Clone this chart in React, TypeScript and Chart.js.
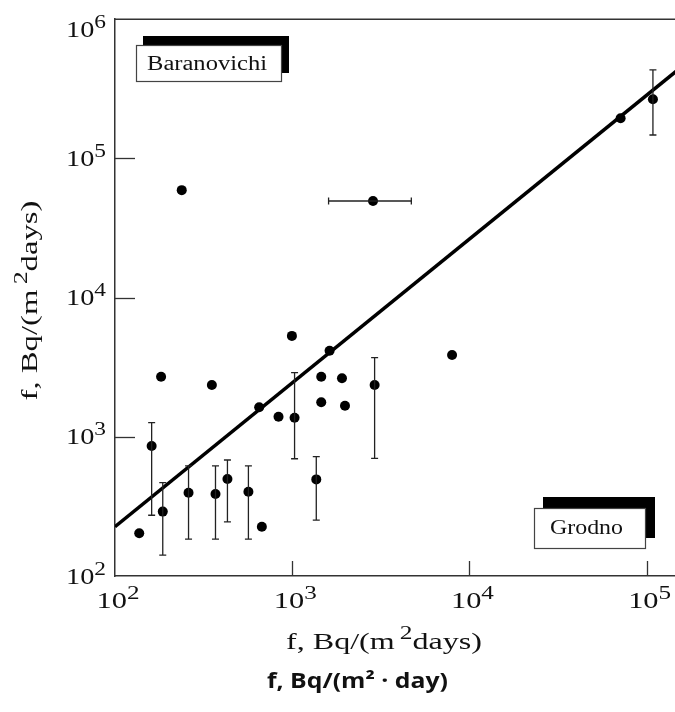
import React, { useEffect, useRef } from 'react';
import { Chart, registerables } from 'chart.js';

Chart.register(...registerables);

// ---------- data ----------
const pointX = [137, 161, 182, 186, 238, 260, 352, 369, 431, 566, 651, 674, 837, 996, 1031, 1367, 1458, 1458, 1625, 1909, 1985, 2917, 2857, 7980, 71300, 108500];
const pointY = [203, 858, 2700, 290, 59000, 396, 2350, 388, 497, 403, 1627, 226, 1393, 5300, 1371, 494, 2700, 1767, 4150, 2630, 1671, 2353, 49300, 3865, 193600, 265000];
const yErrLow: (number | null)[] = [null, 273, null, 141, null, 184, null, 184, 245, 184, null, null, null, null, 695, 252, null, null, null, null, null, 700, null, null, null, 146900];
const yErrHigh: (number | null)[] = [null, 1262, null, 468, null, 617, null, 617, 681, 617, null, null, null, null, 2884, 719, null, null, null, null, null, 3697, null, null, null, 430500];
const xErrLow: (number | null)[] = [null, null, null, null, null, null, null, null, null, null, null, null, null, null, null, null, null, null, null, null, null, null, 1604, null, null, null];
const xErrHigh: (number | null)[] = [null, null, null, null, null, null, null, null, null, null, null, null, null, null, null, null, null, null, null, null, null, null, 4700, null, null, null];

const fitX = [100, 200000];
const fitY = [226, 580000];

const xTickValues = [100, 1000, 10000, 100000];
const yTickValues = [100, 1000, 10000, 100000, 1000000];

const boxLabels = ['Baranovichi', 'Grodno'];
const axisTitleHead = 'f, Bq/(m';
const axisTitleSup = '2';
const axisTitleTail = 'days)';
const bottomTitle = 'f, Bq/(m\u00B2 \u00B7 day)';

// ---------- layout / style ----------
const CANVAS_W = 715;
const CANVAS_H = 712;
const SERIF = '"Liberation Serif", "Times New Roman", serif';
const INK = '#111';

type Part = { t: string; size: number; rise: number };

function drawParts(
  ctx: CanvasRenderingContext2D,
  parts: Part[],
  family: string,
  weight: string,
  x: number,
  y: number,
  width: number,
  align: 'left' | 'center' | 'right'
) {
  const ws: number[] = [];
  let natural = 0;
  for (const p of parts) {
    ctx.font = `${weight} ${p.size}px ${family}`;
    const w = ctx.measureText(p.t).width;
    ws.push(w);
    natural += w;
  }
  const sx = width / natural;
  let cx = align === 'left' ? x : align === 'right' ? x - width : x - width / 2;
  parts.forEach((p, i) => {
    ctx.font = `${weight} ${p.size}px ${family}`;
    ctx.save();
    ctx.translate(cx, y - p.rise);
    ctx.scale(sx, 1);
    ctx.textAlign = 'left';
    ctx.textBaseline = 'alphabetic';
    ctx.fillStyle = INK;
    ctx.fillText(p.t, 0, 0);
    ctx.restore();
    cx += ws[i] * sx;
  });
}

function tickParts(v: number): Part[] {
  const e = Math.round(Math.log10(v));
  return [
    { t: '10', size: 23, rise: 0 },
    { t: String(e), size: 19, rise: 9 },
  ];
}

const titleParts: Part[] = [
  { t: axisTitleHead, size: 24, rise: 0 },
  { t: '\u2009' + axisTitleSup, size: 19, rise: 10 },
  { t: axisTitleTail, size: 24, rise: 0 },
];

function drawBox(
  ctx: CanvasRenderingContext2D,
  text: string,
  l: number, t: number, r: number, b: number,
  sdx: number, sdy: number,
  textLeft: number, baseline: number, textWidth: number
) {
  ctx.save();
  ctx.fillStyle = '#000';
  ctx.fillRect(l + sdx, t + sdy, r - l + 1, b - t + 1);
  ctx.fillStyle = '#fff';
  ctx.fillRect(l, t, r - l, b - t);
  ctx.strokeStyle = '#444';
  ctx.lineWidth = 1.2;
  ctx.strokeRect(l + 0.5, t + 0.5, r - l, b - t);
  ctx.restore();
  drawParts(ctx, [{ t: text, size: 20, rise: 0 }], SERIF, 'normal', textLeft, baseline, textWidth, 'left');
}

const decor = {
  id: 'decor',
  afterDatasetsDraw(chart: any) {
    const ctx: CanvasRenderingContext2D = chart.ctx;
    const xs = chart.scales.x;
    const ys = chart.scales.y;
    ctx.save();
    ctx.strokeStyle = '#222';
    ctx.lineWidth = 1.3;
    const cap = 3.5;
    pointX.forEach((xv, i) => {
      const px = xs.getPixelForValue(xv);
      const py = ys.getPixelForValue(pointY[i]);
      const lo = yErrLow[i];
      const hi = yErrHigh[i];
      if (lo != null && hi != null) {
        const p1 = ys.getPixelForValue(lo);
        const p2 = ys.getPixelForValue(hi);
        ctx.beginPath();
        ctx.moveTo(px, p1); ctx.lineTo(px, p2);
        ctx.moveTo(px - cap, p1); ctx.lineTo(px + cap, p1);
        ctx.moveTo(px - cap, p2); ctx.lineTo(px + cap, p2);
        ctx.stroke();
      }
      const xl = xErrLow[i];
      const xh = xErrHigh[i];
      if (xl != null && xh != null) {
        const q1 = xs.getPixelForValue(xl);
        const q2 = xs.getPixelForValue(xh);
        ctx.beginPath();
        ctx.moveTo(q1, py); ctx.lineTo(q2, py);
        ctx.moveTo(q1, py - cap); ctx.lineTo(q1, py + cap);
        ctx.moveTo(q2, py - cap); ctx.lineTo(q2, py + cap);
        ctx.stroke();
      }
    });
    ctx.restore();
  },
  afterDraw(chart: any) {
    const ctx: CanvasRenderingContext2D = chart.ctx;
    const xs = chart.scales.x;
    const ys = chart.scales.y;
    const area = chart.chartArea;
    ctx.save();
    // top frame line
    ctx.strokeStyle = '#333';
    ctx.lineWidth = 1.5;
    ctx.beginPath();
    ctx.moveTo(area.left, Math.round(area.top) + 0.25);
    ctx.lineTo(area.right, Math.round(area.top) + 0.25);
    ctx.stroke();
    // inward tick marks
    ctx.lineWidth = 1.3;
    yTickValues.forEach((v) => {
      const py = Math.round(ys.getPixelForValue(v)) + 0.5;
      if (py < area.top + 2 || py > area.bottom - 2) return;
      ctx.beginPath();
      ctx.moveTo(area.left, py);
      ctx.lineTo(area.left + 20, py);
      ctx.stroke();
    });
    xTickValues.forEach((v) => {
      const px = Math.round(xs.getPixelForValue(v)) + 0.5;
      if (px < area.left + 2) return;
      ctx.beginPath();
      ctx.moveTo(px, area.bottom);
      ctx.lineTo(px, area.bottom - 15);
      ctx.stroke();
    });
    ctx.restore();

    // tick labels
    yTickValues.forEach((v) => {
      const py = ys.getPixelForValue(v);
      const base = Math.max(py + 7.5, area.top + 18);
      drawParts(ctx, tickParts(v), SERIF, 'normal', 106, base, 40, 'right');
    });
    xTickValues.forEach((v) => {
      const px = xs.getPixelForValue(v);
      drawParts(ctx, tickParts(v), SERIF, 'normal', px + 3, 608, 43, 'center');
    });

    // axis titles
    drawParts(ctx, titleParts, SERIF, 'normal', 286, 649, 196, 'left');
    ctx.save();
    ctx.translate(37, (area.top + area.bottom) / 2 + 3);
    ctx.rotate(-Math.PI / 2);
    drawParts(ctx, titleParts, SERIF, 'normal', 0, 0, 200, 'center');
    ctx.restore();

    // bottom bold title
    drawParts(ctx, [{ t: bottomTitle, size: 21, rise: 0 }], '"Open Sans", "Noto Sans", sans-serif', '700', CANVAS_W / 2, 688, 181, 'center');

    // station labels
    drawBox(ctx, boxLabels[0], 136, 45, 281, 81, 7, -9, 147, 70, 120);
    drawBox(ctx, boxLabels[1], 534, 508, 645, 548, 9, -11, 550, 534, 73);
  },
};

export default function App() {
  const ref = useRef<HTMLCanvasElement | null>(null);
  useEffect(() => {
    if (!ref.current) return;
    const chart = new Chart(ref.current, {
      type: 'scatter',
      data: {
        datasets: [
          {
            type: 'line',
            label: 'fit',
            data: fitX.map((x, i) => ({ x, y: fitY[i] })),
            borderColor: '#000',
            borderWidth: 3.5,
            pointRadius: 0,
            fill: false,
            order: 2,
          } as any,
          {
            type: 'scatter',
            label: 'measurements',
            data: pointX.map((x, i) => ({ x, y: pointY[i] })),
            pointRadius: 5,
            pointHoverRadius: 5,
            backgroundColor: '#000',
            borderWidth: 0,
            order: 1,
          },
        ],
      },
      options: {
        responsive: false,
        animation: false,
        devicePixelRatio: 1,
        layout: { padding: { left: 115, top: 19, right: CANVAS_W - 700, bottom: CANVAS_H - 576 } },
        plugins: { legend: { display: false }, tooltip: { enabled: false }, title: { display: false } },
        scales: {
          x: {
            type: 'logarithmic',
            min: 100,
            max: 200000,
            grid: { display: false, drawTicks: false },
            ticks: { display: false },
            border: { display: true, color: '#333', width: 1.5 },
          },
          y: {
            type: 'logarithmic',
            min: 100,
            max: 1000000,
            grid: { display: false, drawTicks: false },
            ticks: { display: false },
            border: { display: true, color: '#333', width: 1.5 },
          },
        },
      },
      plugins: [decor],
    });
    return () => chart.destroy();
  }, []);
  return (
    <div style={{ position: 'fixed', left: 0, top: 0, width: 675, height: 712, overflow: 'hidden', background: '#fff' }}>
      <canvas ref={ref} width={CANVAS_W} height={CANVAS_H} style={{ display: 'block', width: CANVAS_W, height: CANVAS_H }} />
    </div>
  );
}
